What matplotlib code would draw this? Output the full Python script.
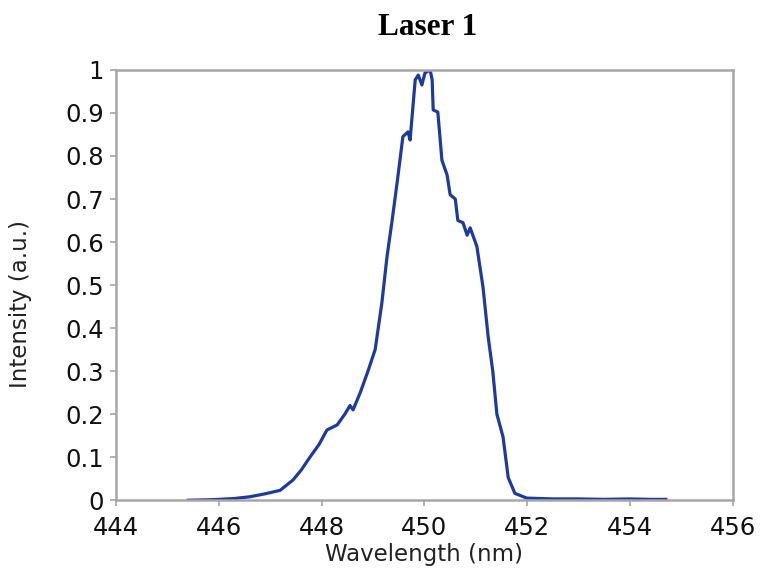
import matplotlib
matplotlib.use("Agg")
import matplotlib.pyplot as plt

# emission spectrum, wavelength in nm and normalised intensity
wavelength = [445.4, 445.8, 446.0, 446.3, 446.6, 446.9, 447.19, 447.44, 447.6, 447.77,
              447.95, 448.1, 448.3, 448.45, 448.55, 448.61, 448.75, 448.9, 449.04, 449.17,
              449.27, 449.37, 449.47, 449.58, 449.68, 449.72, 449.82, 449.88, 449.95, 450.01,
              450.11, 450.15, 450.17, 450.26, 450.34, 450.44, 450.5, 450.6, 450.65, 450.75,
              450.83, 450.89, 451.02, 451.14, 451.24, 451.33, 451.41, 451.53, 451.63, 451.76,
              451.99, 452.5, 453.0, 453.5, 454.0, 454.4, 454.7]
intensity = [0.0, 0.001, 0.002, 0.004, 0.008, 0.015, 0.023, 0.047, 0.07, 0.1,
             0.13, 0.163, 0.175, 0.2, 0.22, 0.21, 0.25, 0.3, 0.35, 0.458,
             0.565, 0.65, 0.74, 0.845, 0.856, 0.837, 0.977, 0.988, 0.965, 0.993,
             1.0, 0.977, 0.907, 0.902, 0.79, 0.756, 0.71, 0.70, 0.65, 0.645,
             0.616, 0.633, 0.59, 0.495, 0.38, 0.30, 0.2, 0.147, 0.053, 0.016,
             0.005, 0.003, 0.003, 0.002, 0.003, 0.002, 0.002]

x_ticks = [444, 446, 448, 450, 452, 454, 456]
y_ticks = [0, 0.1, 0.2, 0.3, 0.4, 0.5, 0.6, 0.7, 0.8, 0.9, 1]
y_tick_labels = ["0", "0.1", "0.2", "0.3", "0.4", "0.5", "0.6", "0.7", "0.8", "0.9", "1"]

frame = "#a6a6a6"

fig = plt.figure(figsize=(7.6, 5.73), dpi=100)
ax = fig.add_axes([0.153, 0.127, 0.811, 0.751])
ax.plot(wavelength, intensity, color="#1e3a9c", lw=2.3, solid_joinstyle="round")

ax.set_xlim(444, 456)
ax.set_ylim(0, 1)
ax.set_xticks(x_ticks)
ax.set_xticklabels([str(t) for t in x_ticks])
ax.set_yticks(y_ticks)
ax.set_yticklabels(y_tick_labels)

for s in ax.spines.values():
    s.set_color(frame)
    s.set_linewidth(1.8)
ax.tick_params(axis="both", color=frame, width=1.2, length=4, direction="out",
               labelsize=17.5, labelcolor="#111111")
ax.tick_params(axis="x", pad=7)
ax.tick_params(axis="y", pad=5)

ax.set_xlabel("Wavelength (nm)", fontsize=16.5, color="#222222")
ax.set_ylabel("Intensity (a.u.)", fontsize=16.5, color="#222222")
ax.xaxis.set_label_coords(0.5, -0.1)
ax.yaxis.set_label_coords(-0.136, 0.456)

fig.text(0.563, 0.952, "Laser 1", ha="center", va="center",
         family="Liberation Serif", fontweight="bold", fontsize=22.5)

fig.savefig("out.png", dpi=100)
